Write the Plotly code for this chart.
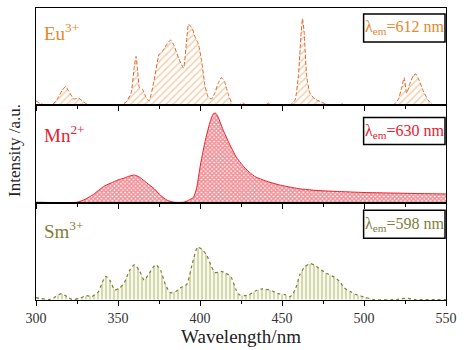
import plotly.graph_objects as go
from plotly.subplots import make_subplots

# ---- data ----
eu_wl = [300, 302, 305, 310, 313, 316, 318, 320, 323, 326, 329, 332, 352, 355, 358, 360, 361, 362, 363, 365, 367, 369,
         372, 375, 377, 380, 382, 384, 387, 390, 392, 393, 395, 397, 399, 401, 403, 405, 407, 409, 411, 413, 415, 417,
         420, 424, 426, 428, 440, 442, 444, 455, 458, 460, 461.5, 462.5, 463.5, 465, 467, 470, 474, 478, 485, 487, 489,
         518, 521, 523, 524.5, 526, 528, 530, 531.5, 533, 536, 539, 542, 550]
eu_int = [0.04, 0.02, 0.0, 0.0, 0.06, 0.15, 0.19, 0.14, 0.06, 0.07, 0.03, 0.0, 0.0, 0.03, 0.12, 0.4, 0.5, 0.35, 0.18, 0.16, 0.08, 0.04,
          0.25, 0.52, 0.55, 0.63, 0.67, 0.62, 0.48, 0.38, 0.7, 0.83, 0.8, 0.7, 0.63, 0.45, 0.2, 0.08, 0.06, 0.12, 0.22, 0.28, 0.24, 0.12,
          0.0, 0.0, 0.02, 0.0, 0.0, 0.02, 0.0, 0.0, 0.05, 0.3, 0.7, 0.89, 0.75, 0.3, 0.12, 0.06, 0.03, 0.0, 0.0, 0.01, 0.0,
          0.0, 0.06, 0.18, 0.28, 0.12, 0.22, 0.3, 0.32, 0.28, 0.15, 0.05, 0.0, 0.0]

mn_wl = [300, 325, 330, 335, 338, 342, 346, 350, 354, 357, 360, 363, 366, 369, 372, 376, 380, 384, 390, 393, 396, 398,
         400, 403, 406, 408, 409.5, 411, 414, 418, 422, 426, 430, 434, 440, 448, 460, 472, 485, 500, 515, 530, 550]
mn_int = [0.0, 0.0, 0.03, 0.08, 0.12, 0.17, 0.2, 0.23, 0.25, 0.27, 0.28, 0.26, 0.22, 0.18, 0.14, 0.07, 0.02, 0.0, 0.0, 0.02, 0.05, 0.15,
          0.36, 0.62, 0.82, 0.91, 0.92, 0.88, 0.75, 0.6, 0.47, 0.38, 0.31, 0.26, 0.22, 0.18, 0.14, 0.12, 0.11, 0.10, 0.095, 0.09, 0.085]

sm_wl = [300, 303, 308, 312, 315.5, 319, 322, 326, 331, 334, 338, 340, 342.5, 345, 348, 351, 354, 357, 360, 363, 366, 369,
         373, 376, 379, 382, 385, 388, 392, 395, 398.5, 401, 404, 407, 409, 411, 413, 416, 419, 422, 424, 427, 430, 434,
         438, 442, 448, 452, 455, 458, 461, 464, 467.5, 471, 476, 482, 485, 488, 492, 495.5, 501.5, 506, 520, 523, 528, 531, 550]
sm_int = [0.02, 0.01, 0.0, 0.03, 0.06, 0.03, 0.0, 0.01, 0.04, 0.03, 0.08, 0.16, 0.24, 0.2, 0.1, 0.12, 0.18, 0.3, 0.36, 0.3, 0.2, 0.27,
          0.36, 0.3, 0.15, 0.07, 0.08, 0.12, 0.16, 0.35, 0.54, 0.52, 0.46, 0.34, 0.28, 0.28, 0.29, 0.27, 0.23, 0.1, 0.05, 0.04, 0.05, 0.09,
          0.11, 0.1, 0.06, 0.05, 0.03, 0.1, 0.26, 0.34, 0.37, 0.34, 0.28, 0.23, 0.19, 0.12, 0.08, 0.05, 0.02, 0.0, 0.0, 0.01, 0.01, 0.0, 0.0]

x_ticks = [300, 350, 400, 450, 500, 550]
labels = ["Eu<sup>3+</sup>", "Mn<sup>2+</sup>", "Sm<sup>3+</sup>"]
lam_labels = ["λ<sub>em</sub>=612 nm", "λ<sub>em</sub>=630 nm", "λ<sub>em</sub>=598 nm"]

EU = "#E8862E"
MN = "#E8202E"
SM = "#7E7E38"
FONT = "Liberation Serif, Times New Roman, serif"

fig = make_subplots(rows=3, cols=1, shared_xaxes=True, vertical_spacing=0)

fig.add_trace(go.Scatter(x=eu_wl, y=eu_int, mode="lines", line=dict(color="#E0642A", width=1, dash="4px,2px", shape="spline", smoothing=0.4),
                         fill="tozeroy",
                         fillpattern=dict(shape="/", fgcolor="#F0A055", bgcolor="white", size=5, solidity=0.3)), row=1, col=1)
fig.add_trace(go.Scatter(x=mn_wl, y=mn_int, mode="lines", line=dict(color=MN, width=1, shape="spline", smoothing=0.6),
                         fill="tozeroy",
                         fillpattern=dict(shape="x", fgcolor=MN, bgcolor="white", size=3, solidity=0.75)), row=2, col=1)
fig.add_trace(go.Scatter(x=sm_wl, y=sm_int, mode="lines", line=dict(color=SM, width=1.2, dash="dot", shape="spline", smoothing=0.6),
                         fill="tozeroy",
                         fillpattern=dict(shape="|", fgcolor="#848A34", bgcolor="#F8FAEA", size=4, solidity=0.3)), row=3, col=1)

for r in (1, 2, 3):
    fig.update_xaxes(range=[300, 550], showline=True, linecolor="black", linewidth=1, mirror=True,
                     ticks="outside", ticklen=5, tickwidth=1, tickcolor="black",
                     tickvals=x_ticks, showticklabels=(r == 3), showgrid=False, zeroline=False,
                     ticklabeloverflow="allow",
                     minor=dict(ticks="outside", ticklen=3, tickwidth=1, tickcolor="black", dtick=25, showgrid=False),
                     row=r, col=1)
    fig.update_yaxes(range=[-0.005, 1.0], showline=True, linecolor="black", linewidth=1, mirror=True,
                     showticklabels=False, ticks="", showgrid=False, zeroline=False, row=r, col=1)

fig.update_xaxes(title=dict(text="Wavelength/nm", font=dict(size=19, family=FONT, color="#222"), standoff=4),
                 tickfont=dict(size=14, family=FONT, color="#333"), row=3, col=1)

W, H = 464, 350
L, R, T, B = 36, 10, 7, 50
pw, ph = W - L - R, H - T - B

def px(x):
    return (x - L) / pw

def py(y):
    return (H - B - y) / ph

colors = [EU, MN, SM]
label_y = [31, 133, 230]
box_y = [(13, 41), (117, 144), (210, 238)]
for i in range(3):
    fig.add_annotation(text=labels[i], x=px(42), y=py(label_y[i]), xref="paper", yref="paper",
                       xanchor="left", yanchor="middle", showarrow=False,
                       font=dict(size=19, family=FONT, color=colors[i]))
    y0, y1 = box_y[i]
    fig.add_shape(type="rect", xref="paper", yref="paper", x0=px(370), x1=px(453), y0=py(y1), y1=py(y0),
                  line=dict(color="black", width=1.5), fillcolor="white")
    fig.add_annotation(text=lam_labels[i], x=px(411.5), y=py((y0 + y1) / 2), xref="paper", yref="paper",
                       xanchor="center", yanchor="middle", showarrow=False,
                       font=dict(size=16, family=FONT, color=colors[i]))

fig.add_annotation(text="Intensity /a.u.", x=px(14), y=py(150), xref="paper", yref="paper",
                   textangle=-90, showarrow=False, xanchor="center", yanchor="middle",
                   font=dict(size=17, family=FONT, color="#222"))

fig.update_layout(width=W, height=H, margin=dict(l=L, r=R, t=T, b=B), showlegend=False,
                  paper_bgcolor="white", plot_bgcolor="white", font=dict(family=FONT))

fig.write_html("out.html", config={"displayModeBar": False},
               post_script="document.body.style.margin='0';document.body.style.padding='0';")
